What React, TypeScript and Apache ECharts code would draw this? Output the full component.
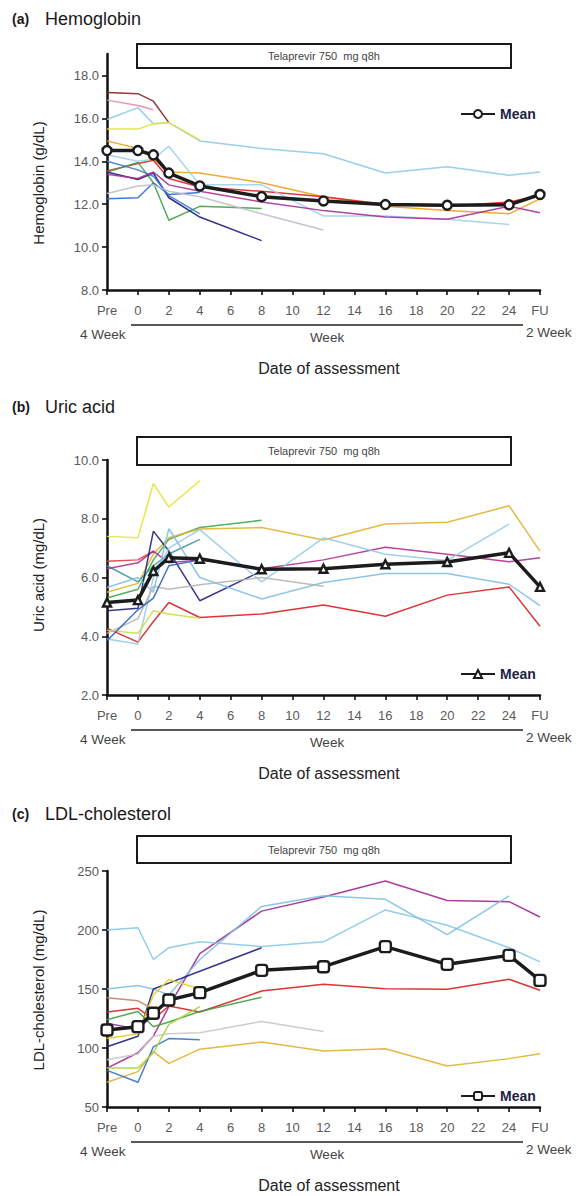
import React, { useEffect, useRef } from 'react';
import * as echarts from 'echarts';

// Assessment time points: Pre (-2), weeks 0..24, FU (26)
const WEEKS = [-2, 0, 1, 2, 4, 8, 12, 16, 20, 24, 26];
const X_EDGE_LABELS: Record<string, string> = { '-2': 'Pre', '26': 'FU' };

// ---- (a) Hemoglobin, g/dL ----
const HB_TICKS = [8, 10, 12, 14, 16, 18];
const hbMean = [14.5, 14.5, 14.3, 13.45, 12.85, 12.35, 12.15, 11.98, 11.95, 11.97, 12.45];
const hbP1 = [17.2, 17.15, 16.8, 15.8];
const hbP2 = [16.85, 16.6, 16.4];
const hbP3 = [15.95, 16.5, 15.75, 15.8, 14.95, 14.6, 14.35, 13.45, 13.75, 13.35, 13.5];
const hbP4 = [15.5, 15.5, 15.75, 15.8, 15.0];
const hbP5 = [14.95, 14.6, 14.1, 13.5, 13.45, 13.0, 12.35, 11.9, 11.7, 11.55, 12.25];
const hbP6 = [13.55, 13.9, 14.05, 13.2, 12.8, 12.6, 12.35, 12.0, 11.9, 12.1, 12.4];
const hbP7 = [13.5, 13.95, 13.0, 11.25, 11.9, 11.8];
const hbP8 = [13.5, 13.15, 13.45, 12.3, 11.4, 10.3];
const hbP9 = [12.25, 12.3, 13.0, 12.45, 12.55];
const hbP10 = [14.0, 13.6, 13.3, 12.4, 11.55];
const hbP11 = [12.5, 12.85, 12.9, 12.6, 12.35, 11.55, 10.8];
const hbP12 = [14.3, 14.0, 14.1, 14.7, 12.9, 12.9, 11.45, 11.45, 11.3, 11.05];
const hbP13 = [13.4, 13.2, 13.5, 12.9, 12.6, 12.1, 11.7, 11.4, 11.3, 11.9, 11.6];
const HB_PATIENTS = [hbP1, hbP2, hbP3, hbP4, hbP5, hbP6, hbP7, hbP8, hbP9, hbP10, hbP11, hbP12, hbP13];

// ---- (b) Uric acid, mg/dL ----
const UA_TICKS = [2, 4, 6, 8, 10];
const uaMean = [5.15, 5.23, 6.22, 6.67, 6.64, 6.28, 6.3, 6.45, 6.53, 6.84, 5.68];
const uaP1 = [7.4, 7.35, 9.2, 8.4, 9.3];
const uaP2 = [5.3, 5.6, 6.6, 7.3, 7.7, 7.95];
const uaP3 = [5.5, 5.8, 6.8, 7.35, 7.65, 7.7, 7.28, 7.82, 7.88, 8.44, 6.9];
const uaP4 = [6.4, 5.85, 6.4, 6.8, 7.3];
const uaP5 = [6.55, 6.6, 6.9];
const uaP6 = [4.27, 3.8, 4.5, 5.15, 4.64, 4.76, 5.06, 4.68, 5.4, 5.68, 4.34];
const uaP7 = [6.3, 6.5, 6.9, 6.5, 6.6, 6.3, 6.6, 7.03, 6.79, 6.54, 6.67];
const uaP8 = [4.87, 4.95, 7.58, 6.9, 5.21, 6.22];
const uaP9 = [5.66, 6.0, 5.5, 7.66, 6.0, 5.27, 5.83, 6.14, 6.14, 5.77, 5.04];
const uaP10 = [3.91, 3.74, 6.0, 7.0, 7.63, 5.85, 7.35, 6.79, 6.58, 7.82];
const uaP11 = [4.1, 4.6, 5.7, 5.6, 5.75, 6.0, 5.7];
const uaP12 = [4.2, 4.1, 4.87, 4.76, 4.61];
const uaP13 = [3.85, 4.9, 5.3, 6.4, 6.6];
const UA_PATIENTS = [uaP1, uaP2, uaP3, uaP4, uaP5, uaP6, uaP7, uaP8, uaP9, uaP10, uaP11, uaP12, uaP13];

// ---- (c) LDL-cholesterol, mg/dL ----
const LDL_TICKS = [50, 100, 150, 200, 250];
const ldlMean = [115.3, 118.1, 129.4, 140.7, 146.9, 165.8, 168.9, 185.9, 170.9, 178.5, 157.3];
const ldlP1 = [83, 96, 110, 135, 180, 216, 228, 241.5, 225, 224, 211];
const ldlP2 = [200, 202, 175, 185, 190, 186, 190, 217, 204, 185, 173];
const ldlP3 = [150, 153, 150, 145, 175, 220, 229, 226, 196, 229];
const ldlP4 = [101, 110, 150, 155, 165, 185];
const ldlP5 = [130.5, 133.6, 124.3, 135.6, 130.5, 148.3, 154, 150.3, 149.7, 158.2, 148.9];
const ldlP6 = [142.5, 140, 133];
const ldlP7 = [108, 112, 145, 158, 150];
const ldlP8 = [124, 131, 118, 122, 131, 143];
const ldlP9 = [90, 95, 110, 112, 113, 122.5, 114];
const ldlP10 = [71, 80, 97, 87, 99, 105, 97.5, 99.4, 84.7, 91, 95.2];
const ldlP11 = [81, 71, 101, 108, 107];
const ldlP12 = [83, 83, 96, 120, 135];
const ldlP13 = [121, 116, 128];
const LDL_PATIENTS = [ldlP1, ldlP2, ldlP3, ldlP4, ldlP5, ldlP6, ldlP7, ldlP8, ldlP9, ldlP10, ldlP11, ldlP12, ldlP13];

// Line colours per panel
const HB_COLORS = ['#8b2222', '#e48aa8', '#8ecae6', '#e6e040', '#f0a020', '#e02424', '#3fa344', '#1c1c80', '#2a6ad0', '#3a7cc8', '#bdbdcc', '#9fd0ec', '#a8309a'];
const UA_COLORS = ['#e6e63a', '#3fa848', '#e0b430', '#3a9a9a', '#e03a3a', '#d82020', '#b03090', '#202080', '#7fc0e2', '#95cbea', '#b5b5b5', '#c8e040', '#3060c0'];
const LDL_COLORS = ['#a02890', '#88c8e8', '#7fc0e4', '#202080', '#d82020', '#c88060', '#e8d020', '#40a040', '#c8c8c8', '#e0b030', '#3070c8', '#a8d440', '#8040a0'];

const FONT = 'Liberation Sans, Arial, Helvetica, sans-serif';

type Panel = {
  tag: string;
  title: string;
  yName: string;
  ticks: number[];
  min: number;
  max: number;
  mean: number[];
  patients: number[][];
  colors: string[];
  symbol: string;
  symbolSize: number;
  top: number;
  height: number;
  titleY: number;
  boxTop: number;
  boxH: number;
  legendTop: number;
  yNameY: number;
  decimals: number;
};

const PANELS: Panel[] = [
  { tag: '(a)', title: 'Hemoglobin', yName: 'Hemoglobin (g/dL)', ticks: HB_TICKS, min: 8, max: 19,
    mean: hbMean, patients: HB_PATIENTS, colors: HB_COLORS, symbol: 'circle', symbolSize: 9,
    top: 54, height: 236, titleY: 21, boxTop: 44, boxH: 24, legendTop: 102, yNameY: 183, decimals: 1 },
  { tag: '(b)', title: 'Uric acid', yName: 'Uric acid (mg/dL)', ticks: UA_TICKS, min: 2, max: 10,
    mean: uaMean, patients: UA_PATIENTS, colors: UA_COLORS, symbol: 'triangle', symbolSize: 8,
    top: 460, height: 235, titleY: 409, boxTop: 437, boxH: 28, legendTop: 662, yNameY: 575, decimals: 1 },
  { tag: '(c)', title: 'LDL-cholesterol', yName: 'LDL-cholesterol (mg/dL)', ticks: LDL_TICKS, min: 50, max: 250,
    mean: ldlMean, patients: LDL_PATIENTS, colors: LDL_COLORS, symbol: 'roundRect', symbolSize: 11,
    top: 871, height: 236, titleY: 816, boxTop: 836, boxH: 27, legendTop: 1084, yNameY: 990, decimals: 0 },
];

const GRID_LEFT = 107;
const GRID_WIDTH = 433;

function toPoints(values: number[]) {
  return values.map((v, i) => [WEEKS[i], v]);
}

export default function App() {
  const ref = useRef<HTMLDivElement>(null);

  useEffect(() => {
    if (!ref.current) return;
    const chart = echarts.init(ref.current, undefined, { renderer: 'svg' });

    const grid: any[] = [];
    const xAxis: any[] = [];
    const yAxis: any[] = [];
    const series: any[] = [];
    const legend: any[] = [];
    const graphic: any[] = [];

    PANELS.forEach((p, gi) => {
      grid.push({ left: GRID_LEFT, top: p.top, width: GRID_WIDTH, height: p.height, containLabel: false });
      xAxis.push({
        type: 'value', gridIndex: gi, min: -2, max: 26, interval: 2,
        axisLine: { show: true, onZero: false, lineStyle: { color: '#111', width: 2.5 } },
        axisTick: { show: true, length: 5, lineStyle: { color: '#111', width: 1.6 } },
        axisLabel: {
          margin: 14, color: '#5a5a5a', fontSize: 13, fontFamily: FONT,
          formatter: (v: number) => X_EDGE_LABELS[String(v)] ?? String(v),
        },
        splitLine: { show: false },
      });
      yAxis.push({
        type: 'value', gridIndex: gi, min: p.min, max: p.max,
        axisLine: { show: true, onZero: false, lineStyle: { color: '#111', width: 2.5 } },
        axisTick: { show: true, length: 5, customValues: p.ticks, lineStyle: { color: '#111', width: 1.6 } },
        axisLabel: {
          margin: 8, color: '#5a5a5a', fontSize: 13, fontFamily: FONT, customValues: p.ticks,
          formatter: (v: number) => v.toFixed(p.decimals),
        },
        splitLine: { show: false },
      });

      p.patients.forEach((vals, k) => {
        series.push({
          type: 'line', xAxisIndex: gi, yAxisIndex: gi, data: toPoints(vals),
          symbol: 'none', silent: true, z: 2,
          lineStyle: { color: p.colors[k], width: 1.5, opacity: 0.9 },
        });
      });

      const meanName = `Mean ${p.tag}`;
      series.push({
        name: meanName, type: 'line', xAxisIndex: gi, yAxisIndex: gi, data: toPoints(p.mean),
        symbol: p.symbol, symbolSize: p.symbolSize, showSymbol: true, z: 10,
        lineStyle: { color: '#1c1c1c', width: 3.5 },
        itemStyle: { color: '#ffffff', borderColor: '#1c1c1c', borderWidth: 2.4 },
      });
      legend.push({
        data: [meanName], left: 455, top: p.legendTop, itemWidth: 34, itemHeight: 10,
        formatter: 'Mean', selectedMode: false,
        textStyle: { color: '#1f1f3f', fontSize: 14, fontWeight: 'bold', fontFamily: FONT },
      });

      const y0 = p.top + p.height;
      // panel heading
      graphic.push(
        { type: 'text', left: 12, top: p.titleY - 9, style: { text: p.tag, fill: '#1a1a1a', font: `bold 14px ${FONT}` } },
        { type: 'text', left: 45, top: p.titleY - 11, style: { text: p.title, fill: '#1a1a1a', font: `18px ${FONT}` } },
        // dosing box
        { type: 'rect', shape: { x: 137, y: p.boxTop, width: 374, height: p.boxH },
          style: { fill: '#fff', stroke: '#1a1a1a', lineWidth: 2 } },
        { type: 'text', x: 324, y: p.boxTop + p.boxH / 2,
          style: { text: 'Telaprevir 750  mg q8h', fill: '#444', font: `11px ${FONT}`, align: 'center', verticalAlign: 'middle' } },
        // y-axis title
        { type: 'text', x: 38, y: p.yNameY, rotation: Math.PI / 2,
          style: { text: p.yName, fill: '#222', font: `15px ${FONT}`, align: 'center', verticalAlign: 'middle' } },
        // week span bar and labels below the x axis
        { type: 'line', shape: { x1: 131, y1: y0 + 35, x2: 523, y2: y0 + 35 }, style: { stroke: '#222', lineWidth: 1.6 } },
        { type: 'text', x: 80, y: y0 + 44, style: { text: '4 Week', fill: '#444', font: `13.5px ${FONT}`, verticalAlign: 'middle' } },
        { type: 'text', x: 327, y: y0 + 47, style: { text: 'Week', fill: '#444', font: `13.5px ${FONT}`, align: 'center', verticalAlign: 'middle' } },
        { type: 'text', x: 526, y: y0 + 42, style: { text: '2 Week', fill: '#444', font: `13.5px ${FONT}`, verticalAlign: 'middle' } },
        { type: 'text', x: 329, y: y0 + 78, style: { text: 'Date of assessment', fill: '#222', font: `16px ${FONT}`, align: 'center', verticalAlign: 'middle' } },
      );
    });

    chart.setOption({
      animation: false,
      backgroundColor: '#ffffff',
      grid, xAxis, yAxis, series, legend, graphic,
    });

    return () => chart.dispose();
  }, []);

  return (
    <div
      ref={ref}
      style={{ position: 'absolute', left: 0, top: 0, width: 586, height: 1196, background: '#fff' }}
    />
  );
}
